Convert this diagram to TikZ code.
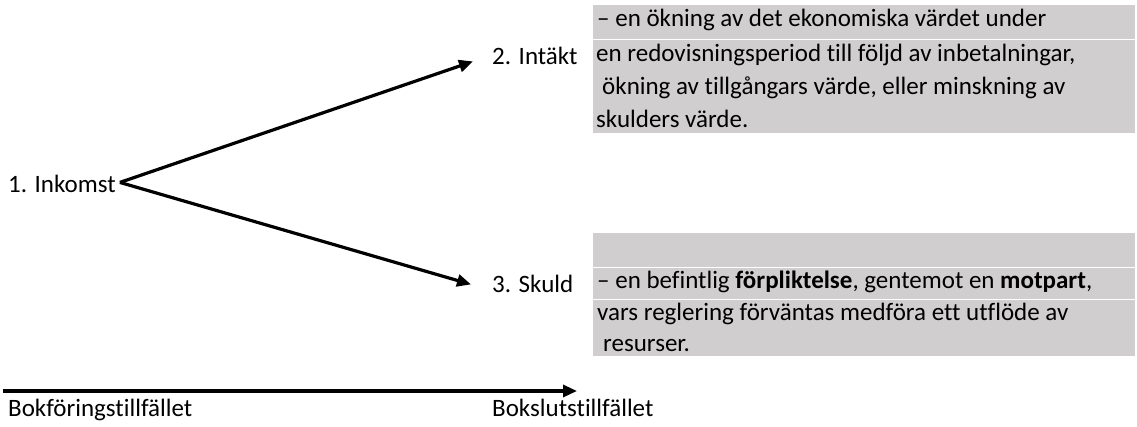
\documentclass[tikz,border=0pt]{standalone}
\usepackage{fontspec}
\setmainfont[Ligatures=NoCommon]{Carlito}
\usepackage{tikz}
\usetikzlibrary{arrows.meta,calc,positioning}
\definecolor{boxgray}{RGB}{208,206,206}
\tikzset{>={Triangle[length=14pt,width=12pt]}}
\tikzset{
    lbl/.style={anchor=base west, inner sep=0pt, font=\fontsize{25}{33}\selectfont},
    thick arrow/.style={->, line width=3.2pt},
    divider/.style={white, line width=0.8pt}
}

\begin{document}
\begin{tikzpicture}[x=1pt, y=-1pt]
            \useasboundingbox (0,0) rectangle (1137,427);

            % gray boxes with the definitions
            \fill[boxgray] (593,5) rectangle (1135,133);
            \fill[boxgray] (593,233) rectangle (1135,356);
            \draw[divider] (593,39) -- (1135,39);
            \draw[divider] (593,267) -- (1135,267);
            \draw[divider] (593,299) -- (1135,299);

            % labels
            \node[lbl] (inkomst) at (8,193) {1. Inkomst};
            \node[lbl] (intakt) at (492,65) {2. Intäkt};
            \node[lbl] (skuld) at (492,293) {3. Skuld};

            \node[lbl] (def1a) at (597,27) {– en ökning av det ekonomiska värdet under};
            \node[lbl] (def1b) at (596,62) {en redovisningsperiod till följd av inbetalningar,};
            \node[lbl] (def1c) at (602,95) {ökning av tillgångars värde, eller minskning av};
            \node[lbl] (def1d) at (596,128) {skulders värde.};

            \node[lbl] (def2a) at (597,289) {– en befintlig \textbf{förpliktelse}, gentemot en \textbf{motpart},};
            \node[lbl] (def2b) at (597,320) {vars reglering förväntas medföra ett utflöde av};
            \node[lbl] (def2c) at (603,351) {resurser.};

            % arrows
            \coordinate (apex) at ($(inkomst.east)+(4,-2)$);
            \draw[thick arrow] (apex) -- ([xshift=-19pt,yshift=-5pt]intakt.west);
            \draw[thick arrow] (apex) -- ([xshift=-21pt]skuld.west);

            % time line
            \coordinate (tstart) at (3,391);
            \coordinate (tend) at (577,391);
            \draw[thick arrow] (tstart) -- (tend);
            \node[lbl] (bokf) at (8,416) {Bokföringstillfället};
            \node[lbl] (bokslut) at (492,416) {Bokslutstillfället};
\end{tikzpicture}
\end{document}
